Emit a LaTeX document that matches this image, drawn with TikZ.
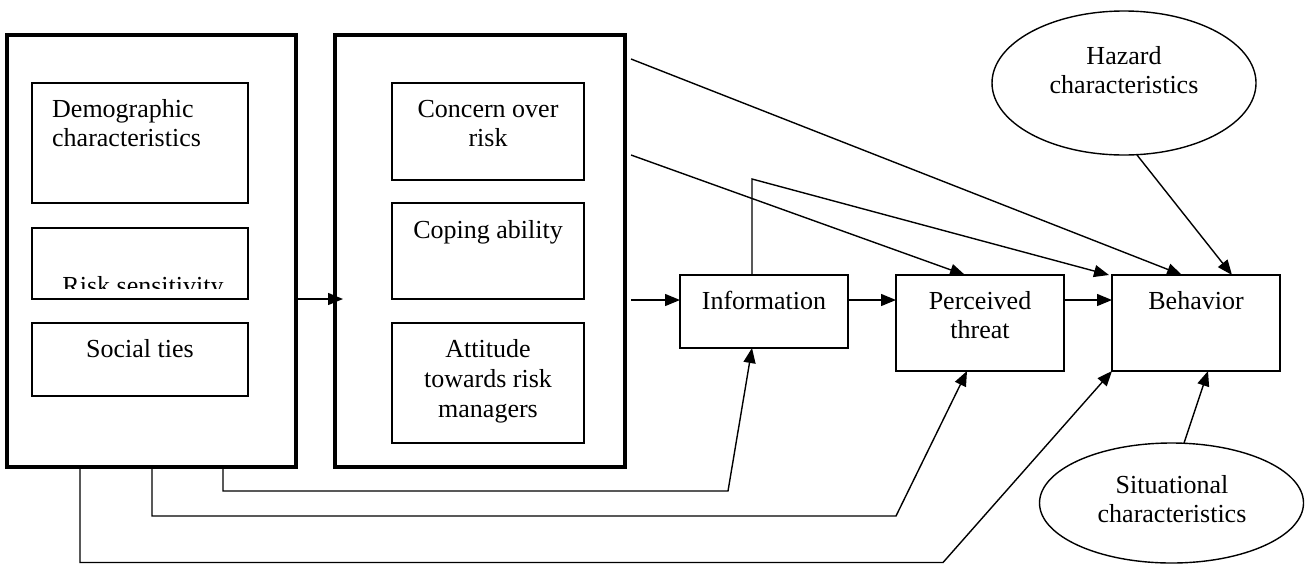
\documentclass[tikz,border=0pt]{standalone}
\usepackage{fontspec}
\setmainfont{Liberation Serif}
\usetikzlibrary{arrows.meta,shapes.geometric,calc}
\begin{document}
\begin{tikzpicture}[x=1pt,y=-1pt,
  thinbox/.style={draw,line width=1.4pt,rectangle,inner sep=0pt,outer sep=0pt},
  thickbox/.style={draw,line width=3.5pt,rectangle,inner sep=0pt,outer sep=0pt},
  ellbox/.style={draw,line width=1.4pt,ellipse,inner sep=0pt,outer sep=0pt},
  txt/.style={inner sep=0pt,anchor=base,font=\fontsize{26pt}{29pt}\selectfont},
  ltxt/.style={inner sep=0pt,anchor=base west,font=\fontsize{26pt}{29pt}\selectfont},
  arr/.style={line width=1.4pt,-{Triangle[length=15pt,width=12pt]}},
  conn/.style={line width=1.4pt}]
\useasboundingbox (0,0) rectangle (1305,563);

% outer boxes
\node[thickbox,minimum width=289pt,minimum height=432pt] (box1) at (151.5,251) {};
\node[thickbox,minimum width=290pt,minimum height=432pt] (box2) at (480,251) {};

% inner boxes of box1
\node[thinbox,minimum width=216pt,minimum height=120pt] (demo) at (140,143) {};
\node[thinbox,minimum width=216pt,minimum height=71pt] (risk) at (140,263.5) {};
\node[thinbox,minimum width=216pt,minimum height=73pt] (social) at (140,359.5) {};
\node[ltxt] (demo1) at (52,117) {Demographic};
\node[ltxt] (demo2) at (52,146.5) {characteristics};
\begin{scope}
\clip (33,229) rectangle (247,288);
\node[txt] (risk1) at (143,294) {Risk sensitivity};
\end{scope}
\node[txt] (social1) at (140,357) {Social ties};

% inner boxes of box2
\node[thinbox,minimum width=192pt,minimum height=97pt] (concern) at (488,131.5) {};
\node[thinbox,minimum width=192pt,minimum height=96pt] (coping) at (488,251) {};
\node[thinbox,minimum width=192pt,minimum height=120pt] (attitude) at (488,383) {};
\node[txt] (concern1) at (488,117) {Concern over};
\node[txt] (concern2) at (488,146.5) {risk};
\node[txt] (coping1) at (488,238) {Coping ability};
\node[txt] (att1) at (488,357) {Attitude};
\node[txt] (att2) at (488,387) {towards risk};
\node[txt] (att3) at (488,417) {managers};

% chain boxes
\node[thinbox,minimum width=168pt,minimum height=73pt] (info) at (764,311.5) {};
\node[thinbox,minimum width=168pt,minimum height=96pt] (perc) at (980,323) {};
\node[thinbox,minimum width=168pt,minimum height=96pt] (beh) at (1196,323) {};
\node[txt] (info1) at (764,309) {Information};
\node[txt] (perc1) at (980,309) {Perceived};
\node[txt] (perc2) at (980,338) {threat};
\node[txt] (beh1) at (1196,309) {Behavior};

% ellipses
\node[ellbox,minimum width=264pt,minimum height=144pt] (hazard) at (1124,83) {};
\node[txt] (haz1) at (1124,64) {Hazard};
\node[txt] (haz2) at (1124,93) {characteristics};
\node[ellbox,minimum width=264pt,minimum height=120pt] (sit) at (1171.5,503) {};
\node[txt] (sit1) at (1172,493) {Situational};
\node[txt] (sit2) at (1172,522) {characteristics};

% connectors
\coordinate (a1) at (343,299);
\draw[arr] (box1.east |- a1) -- (a1);
\coordinate (a2) at (631,300);
\draw[arr] (a2) -- (info.west |- a2);
\draw[arr] (info.east |- a2) -- (perc.west |- a2);
\draw[arr] (perc.east |- a2) -- (beh.west |- a2);
\coordinate (a5) at (631,59);
\draw[arr] (a5) -- ([xshift=-14pt]beh.north);
\coordinate (a6) at (631,155);
\draw[arr] (a6) -- ([xshift=-15pt]perc.north);
\draw[arr] ([xshift=-12pt]info.north) -- ++(0,-96) -- ([xshift=-3pt]beh.north west);
\draw[arr] ([xshift=13pt]hazard.south) -- ([xshift=36pt]beh.north);
\draw[arr] ([xshift=12.5pt]sit.north) -- ([xshift=12pt]beh.south);
\draw[arr] ([xshift=71.5pt]box1.south) -- ++(0,24) -- (728,491) -- ([xshift=-12pt]info.south);
\draw[arr] ([xshift=0.5pt]box1.south) -- ++(0,49) -- (896,516) -- ([xshift=-13pt]perc.south);
\draw[arr] ([xshift=-71.5pt]box1.south) -- ++(0,95.5) -- (943,562.5) -- (beh.south west);
\end{tikzpicture}
\end{document}
